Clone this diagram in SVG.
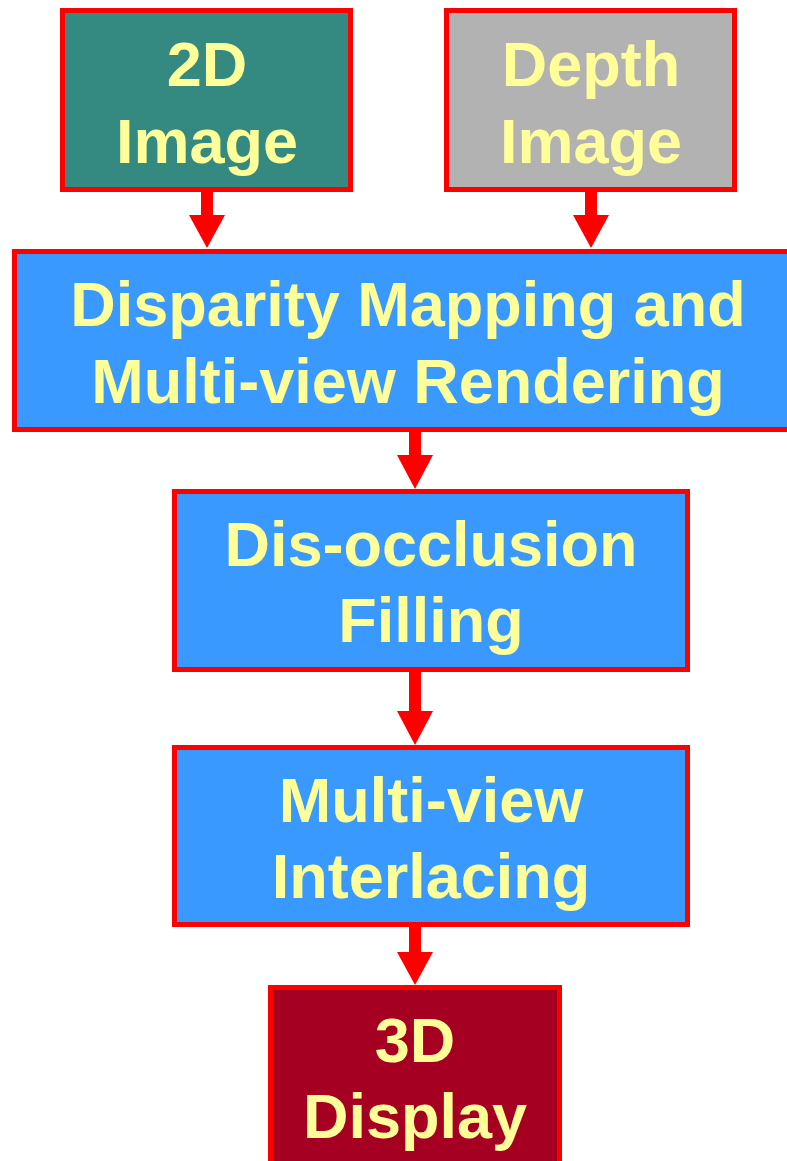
<svg xmlns="http://www.w3.org/2000/svg" width="787" height="1161" viewBox="0 0 787 1161">
<style>
.box{stroke:#ff0000;stroke-width:5}
.lbl{font-family:"Liberation Sans",Arial,sans-serif;font-weight:bold;font-size:63px;fill:#ffff99;text-anchor:middle}
.arr{fill:#ff0000}
</style>
<rect width="787" height="1161" fill="#ffffff"/>
<g id="connectors">
<path class="arr" d="M201,192 H213 V215 H225 L207,248 L189,215 H201 Z"/>
<path class="arr" d="M585,192 H597 V215 H609 L591,248 L573,215 H585 Z"/>
<path class="arr" d="M409,432 H421 V455 H433 L415,489 L397,455 H409 Z"/>
<path class="arr" d="M409,672 H421 V711 H433 L415,745 L397,711 H409 Z"/>
<path class="arr" d="M409,927 H421 V952 H433 L415,985 L397,952 H409 Z"/>
</g>
<g id="node-2d">
<rect class="box" x="62.5" y="10.5" width="288" height="179" fill="#348a80"/>
<text class="lbl" x="207" y="86">2D</text>
<text class="lbl" x="207" y="163">Image</text>
</g>
<g id="node-depth">
<rect class="box" x="446.5" y="10.5" width="288" height="179" fill="#b2b2b2"/>
<text class="lbl" x="591" y="86">Depth</text>
<text class="lbl" x="591" y="163">Image</text>
</g>
<g id="node-disparity">
<rect class="box" x="14.5" y="251.5" width="790" height="178" fill="#3999ff"/>
<text class="lbl" x="408" y="326">Disparity Mapping and</text>
<text class="lbl" x="408" y="403">Multi-view Rendering</text>
</g>
<g id="node-disocclusion">
<rect class="box" x="174.5" y="491.5" width="513" height="178" fill="#3999ff"/>
<text class="lbl" x="431" y="566">Dis-occlusion</text>
<text class="lbl" x="431" y="642">Filling</text>
</g>
<g id="node-interlacing">
<rect class="box" x="174.5" y="747.5" width="513" height="177" fill="#3999ff"/>
<text class="lbl" x="431" y="822">Multi-view</text>
<text class="lbl" x="431" y="898">Interlacing</text>
</g>
<g id="node-3d">
<rect class="box" x="270.5" y="987.5" width="289" height="200" fill="#a50021"/>
<text class="lbl" x="415" y="1062">3D</text>
<text class="lbl" x="415" y="1138">Display</text>
</g>
</svg>
